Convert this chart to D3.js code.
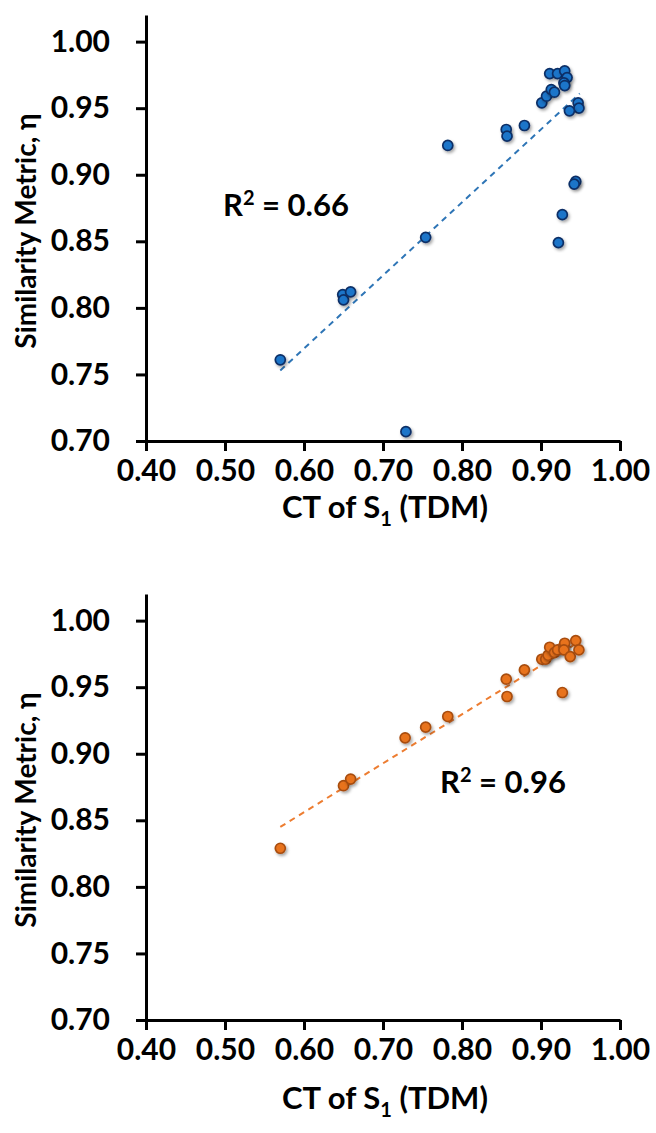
<!DOCTYPE html>
<html>
<head>
<meta charset="utf-8">
<script src="https://cdn.jsdelivr.net/npm/d3@7"></script>
<style>
  body { margin: 0; background: #fff; }
  text { font-family: Lato, "Open Sans", sans-serif; font-weight: bold; fill: #000; }
</style>
</head>
<body>
<div id="chart"></div>
<script>
// values
const xTicks = [0.40, 0.50, 0.60, 0.70, 0.80, 0.90, 1.00]
const yTicks = [0.70, 0.75, 0.80, 0.85, 0.90, 0.95, 1.00]

// top panel (blue)
const ctTop = [0.570, 0.649, 0.650, 0.659, 0.729, 0.754, 0.782, 0.856, 0.857, 0.879,
  0.901, 0.907, 0.913, 0.917, 0.911, 0.921, 0.930, 0.933, 0.929, 0.930,
  0.947, 0.948, 0.936, 0.944, 0.942, 0.927, 0.922]
const etaTop = [0.761, 0.810, 0.806, 0.812, 0.707, 0.853, 0.922, 0.934, 0.929, 0.937,
  0.954, 0.959, 0.964, 0.962, 0.976, 0.976, 0.978, 0.973, 0.969, 0.967,
  0.954, 0.950, 0.948, 0.895, 0.893, 0.870, 0.849]
const trendTop = [[0.570, 0.753], [0.949, 0.961]]

// bottom panel (orange)
const ctBottom = [0.570, 0.650, 0.659, 0.728, 0.754, 0.782, 0.856, 0.857, 0.879, 0.927,
  0.901, 0.906, 0.909, 0.911, 0.917, 0.921, 0.929, 0.930, 0.929, 0.937, 0.944, 0.948]
const etaBottom = [0.829, 0.876, 0.881, 0.912, 0.920, 0.928, 0.956, 0.943, 0.963, 0.946,
  0.971, 0.971, 0.974, 0.980, 0.976, 0.978, 0.981, 0.983, 0.978, 0.973, 0.985, 0.978]
const trendBottom = [[0.570, 0.845], [0.948, 0.984]]

const width = 656
const height = 1133

const svg = d3.select("#chart")
  .append("svg")
    .attr("width", width)
    .attr("height", height)

// soft shadow under the markers
const filt = svg.append("defs").append("filter")
    .attr("id", "shadow")
    .attr("x", "-50%").attr("y", "-50%")
    .attr("width", "200%").attr("height", "200%")
filt.append("feDropShadow")
    .attr("dx", 1.5).attr("dy", 2)
    .attr("stdDeviation", 1.5)
    .attr("flood-color", "#000")
    .attr("flood-opacity", 0.35)

function panel(top, xs, ys, trend, fill, stroke, lineColor, r2val, r2pos, titleY) {
  const x = d3.scaleLinear().domain([0.4, 1.0]).range([146, 620])
  const y = d3.scaleLinear().domain([0.70, 1.02]).range([top + 426, top])

  const g = svg.append("g")

  // trend line
  g.append("line")
    .attr("x1", x(trend[0][0])).attr("y1", y(trend[0][1]))
    .attr("x2", x(trend[1][0])).attr("y2", y(trend[1][1]))
    .attr("stroke", lineColor)
    .attr("stroke-width", 2)
    .attr("stroke-dasharray", "6,5")

  // points
  g.append("g")
    .selectAll("circle")
    .data(d3.range(xs.length))
    .join("circle")
      .attr("cx", i => x(xs[i]))
      .attr("cy", i => y(ys[i]))
      .attr("r", 5)
      .attr("fill", fill)
      .attr("stroke", stroke)
      .attr("stroke-width", 1.7)
      .attr("filter", "url(#shadow)")

  // axes
  const yAxis = g.append("g")
    .attr("transform", `translate(${x(0.4)},0)`)
    .call(d3.axisLeft(y).tickValues(yTicks).tickFormat(d3.format(".2f"))
      .tickSize(10).tickSizeOuter(0).tickPadding(26))
  const xAxis = g.append("g")
    .attr("transform", `translate(0,${y(0.70)})`)
    .call(d3.axisBottom(x).tickValues(xTicks).tickFormat(d3.format(".2f"))
      .tickSize(10).tickSizeOuter(0).tickPadding(9))

  for (const a of [xAxis, yAxis]) {
    a.select(".domain").attr("stroke", "#000").attr("stroke-width", 3)
    a.selectAll(".tick line").attr("stroke", "#000").attr("stroke-width", 3)
    a.selectAll(".tick text").style("font-size", "30px").attr("fill", "#000")
  }

  // axis titles
  g.append("text")
    .attr("transform", `translate(36,${top + 216}) rotate(-90)`)
    .attr("text-anchor", "middle")
    .style("font-size", "28px")
    .text("Similarity Metric, η")

  const xt = g.append("text")
    .attr("x", 385)
    .attr("y", top + titleY)
    .attr("text-anchor", "middle")
    .style("font-size", "31px")
  xt.append("tspan").text("CT of S")
  xt.append("tspan").attr("dy", 8).style("font-size", "20px").text("1")
  xt.append("tspan").attr("dy", -8).text(" (TDM)")

  // R² label
  const rt = g.append("text")
    .attr("x", r2pos[0])
    .attr("y", top + r2pos[1])
    .style("font-size", "31px")
  rt.append("tspan").text("R")
  rt.append("tspan").attr("dy", -11).style("font-size", "20px").text("2")
  rt.append("tspan").attr("dy", 11).text(" = " + r2val)
}

panel(15, ctTop, etaTop, trendTop, "#1b75c9", "#0b2f66", "#2e75b6", "0.66", [223, 201], 503)
panel(594, ctBottom, etaBottom, trendBottom, "#e8731f", "#a84d10", "#ed7d31", "0.96", [440, 199], 515)
</script>
</body>
</html>
